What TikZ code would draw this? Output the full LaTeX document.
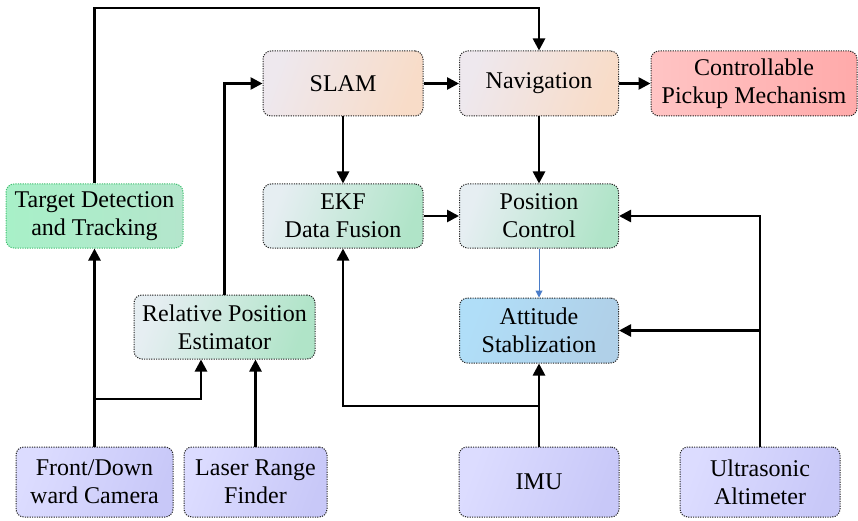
\documentclass[tikz,border=0pt]{standalone}
\usepackage{fontspec}
\setmainfont{Liberation Serif}
\usetikzlibrary{arrows.meta}
\definecolor{peachA}{HTML}{EEE8EE}
\definecolor{peachB}{HTML}{F8DCC8}
\definecolor{grnA}{HTML}{E6EEF2}
\definecolor{grnB}{HTML}{B0E4C8}
\definecolor{tgtA}{HTML}{A8F0C8}
\definecolor{tgtB}{HTML}{B4E6CC}
\definecolor{tgtBorder}{HTML}{40C070}
\definecolor{bluA}{HTML}{B0DEF8}
\definecolor{bluB}{HTML}{B0D0E8}
\definecolor{purA}{HTML}{DCDCFF}
\definecolor{purB}{HTML}{C8C8F8}
\definecolor{redA}{HTML}{FFC4C4}
\definecolor{redB}{HTML}{FFAAAA}
\definecolor{thinblue}{HTML}{4A7CC8}
\tikzset{
  box/.style={draw=black!85, line width=1pt, dash pattern=on 1.2pt off 1.2pt, rounded corners=8pt,
    align=center, font=\fontsize{24}{28}\selectfont, inner sep=0pt, anchor=center},
  peach/.style={box, left color=peachA, right color=peachB, shading angle=70},
  grn/.style={box, left color=grnA, right color=grnB, shading angle=70},
  tgtbox/.style={box, draw=tgtBorder, left color=tgtA, right color=tgtB},
  blu/.style={box, left color=bluA, right color=bluB, shading angle=70},
  pur/.style={box, left color=purA, right color=purB, shading angle=70},
  red/.style={box, left color=redA, right color=redB},
  arr/.style={line width=2.6pt, -{Triangle[length=12pt,width=12pt]}},
  barr/.style={line width=1pt, draw=thinblue, -{Triangle[length=7pt,width=7pt]}, thinblue},
}
\begin{document}
\begin{tikzpicture}[x=1pt,y=-1pt]
\useasboundingbox (0,0) rectangle (858,521);
% nodes
\node[peach, minimum width=160, minimum height=65] (slam) at (343,83.5) {SLAM};
\node[peach, minimum width=159, minimum height=65] (nav) at (539,83.5) {Navigation};
\node[red, minimum width=206, minimum height=65] (pick) at (754,83.5) {Controllable\\Pickup Mechanism};
\node[tgtbox, minimum width=177, minimum height=64] (tgt) at (94.5,216) {Target Detection\\and Tracking};
\node[grn, minimum width=160, minimum height=64] (ekf) at (343,216) {EKF\\Data Fusion};
\node[grn, minimum width=159, minimum height=64] (pos) at (539,216) {Position\\Control};
\node[grn, minimum width=181, minimum height=64] (rel) at (224.5,327) {Relative Position\\Estimator};
\node[blu, minimum width=159, minimum height=65] (att) at (539,330.5) {Attitude\\Stablization};
\node[pur, minimum width=157, minimum height=70] (cam) at (94.5,482) {Front/Down\\ward Camera};
\node[pur, minimum width=143, minimum height=70] (las) at (255.5,482) {Laser Range\\Finder};
\node[pur, minimum width=160, minimum height=70] (imu) at (539,482) {IMU};
\node[pur, minimum width=160, minimum height=70] (ult) at (760,482) {Ultrasonic\\Altimeter};
% helper coordinates
\coordinate (topc) at (539,8);
\coordinate (camb) at (94.5,399);
\coordinate (imub) at (539,406);
\coordinate (ultb) at (760,330.5);
% connectors
\draw[arr] (tgt.north) |- (topc) -- (nav.north);
\draw[arr] (rel.north) |- (slam.west);
\draw[arr] (slam.east) -- (nav.west);
\draw[arr] (nav.east) -- (pick.west);
\draw[arr] (slam.south) -- (ekf.north);
\draw[arr] (nav.south) -- (pos.north);
\draw[arr] (ekf.east) -- (pos.west);
\draw[barr] (pos.south) -- (att.north);
\draw[arr] (cam.north) -- (tgt.south);
\draw[arr] (camb) -| ([xshift=-23.5pt]rel.south);
\draw[arr] (las.north) -- (las.north |- rel.south);
\draw[arr] (imu.north) -- (att.south);
\draw[arr] (imub) -| (ekf.south);
\draw[arr] (ult.north) |- (pos.east);
\draw[arr] (ultb) -- (att.east);
\end{tikzpicture}
\end{document}
